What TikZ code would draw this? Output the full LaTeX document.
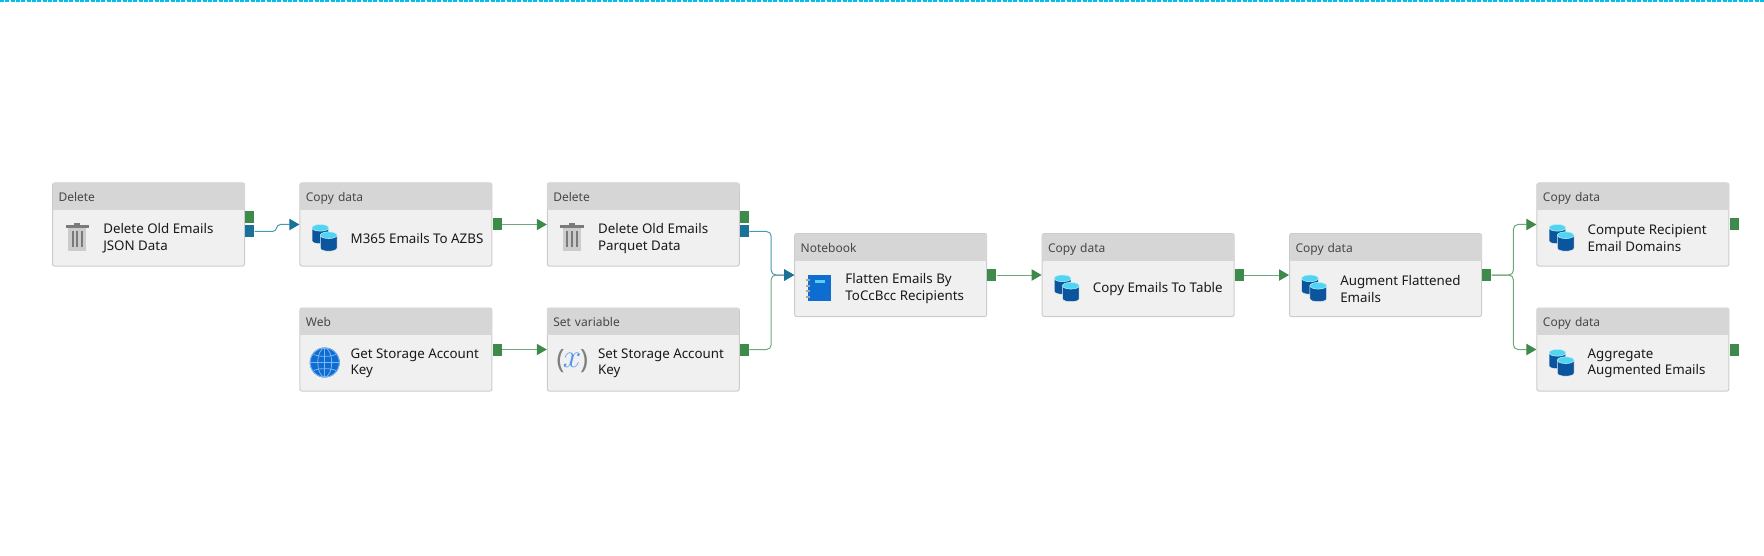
\documentclass[tikz,border=0pt]{standalone}
\usepackage{xcolor}
\usepackage{fontspec}
\setmainfont{Noto Sans}
\usepackage{tikz}
\usetikzlibrary{arrows.meta,positioning}
\definecolor{boxfill}{HTML}{F0F0F0}
\definecolor{boxline}{HTML}{CCCCCC}
\definecolor{headfill}{HTML}{D6D6D6}
\definecolor{okgreen}{HTML}{3E8A4A}
\definecolor{oklight}{HTML}{6FA97B}
\definecolor{doneblue}{HTML}{1A7299}
\definecolor{donelight}{HTML}{4C95B5}
\definecolor{dbblue}{HTML}{0B559F}
\definecolor{dbcyan}{HTML}{50D4F2}
\definecolor{globeblue}{HTML}{0F6CD0}
\definecolor{globeline}{HTML}{7DB5F0}
\definecolor{varblue}{HTML}{4F94EE}
\tikzset{
  pics/trashicon/.style={code={
    \fill[black!20] (-9.4,-9) rectangle (9,13);
    \fill[black!52] (-11.7,-12) rectangle (11.7,-9);
    \fill[black!52] (-3,-14.4) rectangle (3,-12);
    \foreach \barx in {-5.7,-1,4}
      \fill[black!52] (\barx,-6) rectangle ({\barx+2},10);
  }},
  pics/dbicon/.style={code={
    \foreach \cx/\cy in {-4.35/-3.7,3.95/3.7} {
      \filldraw[fill=dbblue, draw=boxfill, line width=.4pt]
        ({\cx-8.35},{\cy-6}) -- ({\cx-8.35},{\cy+7})
        .. controls ({\cx-8.35},{\cy+11}) and ({\cx+8.35},{\cy+11}) .. ({\cx+8.35},{\cy+7})
        -- ({\cx+8.35},{\cy-6}) -- cycle;
      \filldraw[fill=dbcyan, draw=dbcyan!40, line width=.4pt] (\cx,{\cy-6}) ellipse [x radius=6.26pt, y radius=2.5pt];
    }
  }},
  pics/globeicon/.style={code={
    \fill[globeblue] (0,0) circle [radius=11.25pt];
    \draw[globeline, line width=.6pt] (0,0) circle [radius=10.9pt];
    \draw[globeline, line width=.6pt] (0,0) ellipse [x radius=5.2pt, y radius=10.9pt];
    \draw[globeline, line width=.6pt] (0,-15) -- (0,15);
    \draw[globeline, line width=.6pt] (-14.5,0) -- (14.5,0);
    \draw[globeline, line width=.6pt] (-11,-8) .. controls (-5,-5.5) and (5,-5.5) .. (11,-8);
    \draw[globeline, line width=.6pt] (-11,8) .. controls (-5,5.5) and (5,5.5) .. (11,8);
  }},
  pics/noteicon/.style={code={
    \fill[globeblue] (-11.5,-13.4) rectangle (11.5,13.3);
    \fill[dbcyan] (-4.8,-8.4) rectangle (5.8,-5);
    \foreach \ringy in {-7.7,-2.4,3,9}
      \fill[black!35] (-13.8,{\ringy-1}) rectangle (-9.2,{\ringy+1});
  }},
  pics/varicon/.style={code={
    \node[text=black!50, inner sep=0pt, font=\fontsize{20pt}{20pt}\selectfont] (-lp) at (-11.5,-1) {(};
    \node[text=varblue, inner sep=0pt, font=\fontsize{27pt}{27pt}\selectfont] (-v) at (0,-2) {$x$};
    \node[text=black!50, inner sep=0pt, font=\fontsize{20pt}{20pt}\selectfont] (-rp) at (12,-1) {)};
  }}
}
% one pipeline activity: name, placement, kind, text, icon
\newcommand{\activity}[5]{
  \node[actbox, #2] (#1) {};
  \node[acthead, below=.4pt of #1.north] (#1-head) {#3};
  \node[acttext] (#1-text) at ([xshift=38.25pt,yshift=-10.4pt]#1.west) {#4};
  \pic (#1-icon) at ([xshift=19pt,yshift=-9.75pt]#1.west) {#5};
}

\begin{document}
\begin{tikzpicture}[
  x=.75pt, y=-.75pt,
  node distance=30.75pt and 40.8pt,
  actbox/.style={draw=boxline, fill=boxfill, line width=.75pt, rounded corners=1.5pt,
                 minimum width=144pt, minimum height=62.25pt, inner sep=0pt},
  acthead/.style={fill=headfill, text=black!72, minimum width=144pt, minimum height=20pt,
                  text width=135pt, text height=8.5pt, text depth=.5pt, align=left,
                  inner xsep=4.5pt, inner ysep=0pt, font=\fontsize{9pt}{11pt}\selectfont},
  acttext/.style={anchor=west, align=left, inner sep=0pt, text=black!90,
                  font=\fontsize{10pt}{12.6pt}\selectfont},
  okport/.style={fill=okgreen, minimum width=6.75pt, minimum height=9pt, inner sep=0pt},
  doneport/.style={fill=doneblue, minimum width=6.75pt, minimum height=9pt, inner sep=0pt},
  okarr/.style={draw=oklight, line width=.75pt, rounded corners=3.5pt,
                -{Triangle[length=7.5pt,width=8.5pt,color=okgreen]}},
  donearr/.style={draw=donelight, line width=.75pt, rounded corners=3.5pt,
                  -{Triangle[length=7.5pt,width=8.5pt,color=doneblue]}},
  topline/.style={draw={rgb,255:red,0;green,191;blue,232}, line width=1.5pt, dash pattern=on 3pt off 1pt}
]
  \useasboundingbox (0,0) rectangle (1764,556);
  \coordinate (topl) at (0,1);
  \coordinate (topr) at (1764,1);
  \draw[topline] (topl) -- (topr);

  \activity{deljson}{at={(148.5,224.5)}}{Delete}{Delete Old Emails\\JSON Data}{trashicon}
  \activity{m365}{right=of deljson}{Copy data}{M365 Emails To AZBS}{dbicon}
  \activity{delparquet}{right=of m365}{Delete}{Delete Old Emails\\Parquet Data}{trashicon}
  \activity{getkey}{below=of m365}{Web}{Get Storage Account\\Key}{globeicon}
  \activity{setkey}{below=of delparquet}{Set variable}{Set Storage Account\\Key}{varicon}
  \activity{flatten}{right=of delparquet, yshift=-37.9pt}{Notebook}{Flatten Emails By\\ToCcBcc Recipients}{noteicon}
  \activity{totable}{right=of flatten}{Copy data}{Copy Emails To Table}{dbicon}
  \activity{augment}{right=of totable}{Copy data}{Augment Flattened\\Emails}{dbicon}
  \activity{recip}{right=of augment, yshift=37.9pt}{Copy data}{Compute Recipient\\Email Domains}{dbicon}
  \activity{aggr}{below=of recip}{Copy data}{Aggregate\\Augmented Emails}{dbicon}

  \node[okport, right=0pt of deljson, yshift=5.25pt] (deljson-ok) {};
  \node[doneport, right=0pt of deljson, yshift=-5.25pt] (deljson-done) {};
  \node[okport, right=0pt of m365] (m365-ok) {};
  \node[okport, right=0pt of delparquet, yshift=5.25pt] (delparquet-ok) {};
  \node[doneport, right=0pt of delparquet, yshift=-5.25pt] (delparquet-done) {};
  \node[okport, right=0pt of getkey] (getkey-ok) {};
  \node[okport, right=0pt of setkey] (setkey-ok) {};
  \node[okport, right=0pt of flatten] (flatten-ok) {};
  \node[okport, right=0pt of totable] (totable-ok) {};
  \node[okport, right=0pt of augment] (augment-ok) {};
  \node[okport, right=0pt of recip] (recip-ok) {};
  \node[okport, right=0pt of aggr] (aggr-ok) {};

  \draw[donearr, sharp corners] (deljson-done.east) -- ++(18,0) .. controls +(5,0) and +(-5,0) .. ++(8,-7) -- (m365.west);
  \draw[okarr] (m365-ok.east) -- (delparquet.west);
  \draw[okarr] (getkey-ok.east) -- (setkey.west);
  \draw[okarr] (setkey-ok.east) -| ([xshift=-17.25pt]flatten.west) -- (flatten.west);
  \draw[donearr] (delparquet-done.east) -| ([xshift=-17.25pt]flatten.west) -- (flatten.west);
  \draw[okarr] (flatten-ok.east) -- (totable.west);
  \draw[okarr] (totable-ok.east) -- (augment.west);
  \draw[okarr] (augment-ok.east) -| ([xshift=-17.25pt]recip.west) -- (recip.west);
  \draw[okarr] (augment-ok.east) -| ([xshift=-17.25pt]aggr.west) -- (aggr.west);
\end{tikzpicture}
\end{document}
